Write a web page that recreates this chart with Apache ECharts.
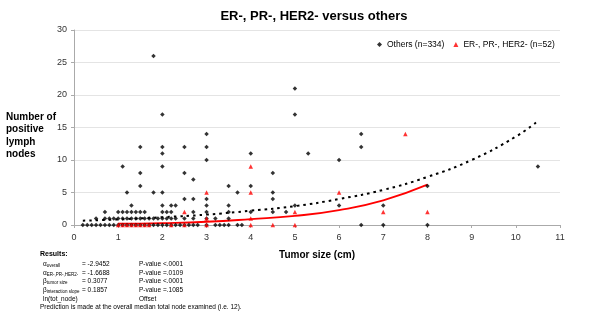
<!DOCTYPE html>
<html>
<head>
<meta charset="utf-8">
<script src="https://cdn.jsdelivr.net/npm/echarts@6/dist/echarts.min.js"></script>
<style>html,body{margin:0;padding:0;background:#fff}#main{width:600px;height:332px}</style>
</head>
<body>
<div id="main"></div>
<script>
// [tumor size cm, positive nodes]
const othersPts = [
  [0.2,0],[0.3,0],[0.4,0],[0.5,0],[0.6,0],[0.7,0],[0.8,0],[0.9,0],[1.0,0],[1.1,0],[1.2,0],[1.3,0],[1.4,0],[1.5,0],
  [1.6,0],[1.7,0],[1.8,0],[1.9,0],[2.0,0],[2.1,0],[2.2,0],[2.3,0],[2.4,0],[2.5,0],[2.6,0],[2.7,0],[2.8,0],[3.0,0],
  [3.2,0],[3.3,0],[3.4,0],[3.5,0],[3.7,0],[3.8,0],[6.5,0],[7.0,0],[8.0,0],
  [0.5,1],[0.7,1],[0.8,1],[0.9,1],[1.0,1],[1.1,1],[1.2,1],[1.3,1],[1.4,1],[1.5,1],[1.6,1],[1.7,1],[1.8,1],[1.9,1],
  [2.0,1],[2.1,1],[2.2,1],[2.3,1],[2.5,1],[2.7,1],[3.0,1],[3.2,1],[3.5,1],
  [0.7,2],[1.0,2],[1.1,2],[1.2,2],[1.3,2],[1.4,2],[1.5,2],[1.6,2],[2.0,2],[2.1,2],[2.2,2],[2.7,2],[3.0,2],[3.5,2],
  [4.0,2],[4.5,2],[4.8,2],
  [1.3,3],[2.0,3],[2.2,3],[2.3,3],[3.0,3],[3.5,3],[5.0,3],[6.0,3],[7.0,3],
  [2.5,4],[2.7,4],[3.0,4],[4.5,4],
  [1.2,5],[1.8,5],[2.0,5],[3.7,5],[4.5,5],
  [1.5,6],[3.5,6],[4.0,6],[8.0,6],
  [2.7,7],
  [1.5,8],[2.5,8],[4.5,8],
  [1.1,9],[2.0,9],[10.5,9],
  [3.0,10],[6.0,10],
  [2.0,11],[4.0,11],[5.3,11],
  [1.5,12],[2.0,12],[2.5,12],[3.0,12],[6.5,12],
  [3.0,14],[6.5,14],
  [2.0,17],[5.0,17],
  [5.0,21],
  [1.8,26]
];
const erNegPts = [
  [1.0,0],[1.1,0],[1.2,0],[1.3,0],[1.4,0],[1.5,0],[1.6,0],[1.7,0],[2.2,0],[2.5,0],[3.0,0],[4.0,0],[4.5,0],[5.0,0],
  [3.0,1],[4.0,1],
  [2.5,2],[5.0,2],[7.0,2],[8.0,2],
  [3.0,5],[4.0,5],[6.0,5],
  [4.0,9],
  [7.5,14]
];
// predicted curves
const othersFit = [[0.2,0.67],[1,0.86],[2,1.2],[3,1.6],[4,2.2],[5,2.9],[6,4.0],[7,5.4],[8,7.4],[9,10.0],[10,13.6],[10.5,16.0]];
const erNegFit = [[1,0.2],[2,0.3],[3,0.5],[4,0.9],[5,1.4],[6,2.3],[7,3.8],[8,6.2]];

const resultRows = [
  ['α', 'overall', '= -2.9452', 'P-value', '<.0001'],
  ['α', 'ER-,PR-,HER2-', '= -1.6688', 'P-value', '=.0109'],
  ['β', 'tumor size', '= 0.3077', 'P-value', '<.0001'],
  ['β', 'interaction slope', '= 0.1857', 'P-value', '=.1085']
];

const chart = echarts.init(document.getElementById('main'));
const ff = 'Liberation Sans, Arial, sans-serif';

const graphics = [
  {type: 'text', left: 6, top: 111, style: {text: 'Number of\npositive\nlymph\nnodes', font: 'bold 10px ' + ff, fill: '#000', lineHeight: 12.3}},
  {type: 'text', x: 40, y: 254, style: {text: 'Results:', font: 'bold 7px ' + ff, fill: '#000', textVerticalAlign: 'middle'}}
];
resultRows.forEach((r, i) => {
  const y = 264 + i * 8.8;
  graphics.push({type: 'text', x: 43, y: y, style: {
    text: '{g|' + r[0] + '}{s|' + r[1] + '}', textVerticalAlign: 'middle', fill: '#000',
    rich: {g: {fontSize: 6.5, fontFamily: ff}, s: {fontSize: 4.5, fontFamily: ff, padding: [3, 0, 0, 0]}}
  }});
  graphics.push({type: 'text', x: 82, y: y, style: {text: r[2], font: '6.5px ' + ff, fill: '#000', textVerticalAlign: 'middle'}});
  graphics.push({type: 'text', x: 139, y: y, style: {text: r[3], font: '6.5px ' + ff, fill: '#000', textVerticalAlign: 'middle'}});
  graphics.push({type: 'text', x: 163, y: y, style: {text: r[4], font: '6.5px ' + ff, fill: '#000', textVerticalAlign: 'middle'}});
});
graphics.push({type: 'text', x: 43, y: 299, style: {text: 'ln(tot_node)', font: '6.5px ' + ff, fill: '#000', textVerticalAlign: 'middle'}});
graphics.push({type: 'text', x: 139, y: 299, style: {text: 'Offset', font: '6.5px ' + ff, fill: '#000', textVerticalAlign: 'middle'}});
graphics.push({type: 'text', x: 40, y: 307, style: {text: 'Prediction is made at the overall median total node examined (i.e. 12).', font: '6.5px ' + ff, fill: '#000', textVerticalAlign: 'middle'}});

const option = {
  animation: false,
  backgroundColor: '#fff',
  title: {
    text: 'ER-, PR-, HER2- versus others',
    left: 309, textAlign: 'center', top: 5,
    textStyle: {fontFamily: ff, fontSize: 13, fontWeight: 'bold', color: '#000'}
  },
  legend: {
    data: [
      {name: 'Others (n=334)', icon: 'diamond'},
      {name: 'ER-, PR-, HER2- (n=52)', icon: 'triangle'}
    ],
    left: 372, top: 35, itemWidth: 5, itemHeight: 5, itemGap: 9,
    textStyle: {fontFamily: ff, fontSize: 8.5, color: '#000'}
  },
  grid: {left: 74, right: 40, top: 30, bottom: 107},
  xAxis: {
    type: 'value', min: 0, max: 11, interval: 1,
    name: 'Tumor size (cm)', nameLocation: 'middle', nameGap: 25,
    nameTextStyle: {fontFamily: ff, fontSize: 10, fontWeight: 'bold', color: '#000'},
    axisLine: {lineStyle: {color: '#aaa'}},
    axisTick: {show: true, length: 3, lineStyle: {color: '#aaa'}},
    axisLabel: {fontFamily: ff, fontSize: 9, color: '#333', margin: 8},
    splitLine: {show: false}
  },
  yAxis: {
    type: 'value', min: 0, max: 30, interval: 5,
    axisLine: {show: true, lineStyle: {color: '#aaa'}},
    axisTick: {show: true, length: 3, lineStyle: {color: '#aaa'}},
    axisLabel: {fontFamily: ff, fontSize: 9, color: '#333', margin: 7},
    splitLine: {lineStyle: {color: '#e4e4e4'}}
  },
  series: [
    {name: 'Others (n=334)', type: 'scatter', symbol: 'diamond', symbolSize: 4.5,
      itemStyle: {color: '#000'}, data: othersPts, z: 3},
    {name: 'ER-, PR-, HER2- (n=52)', type: 'scatter', symbol: 'triangle', symbolSize: 4.5,
      itemStyle: {color: '#ff0000'}, data: erNegPts, z: 4},
    {name: 'othersFit', type: 'line', smooth: true, showSymbol: false, data: othersFit, z: 2,
      lineStyle: {color: '#000', width: 2, type: [2.5, 4]}},
    {name: 'erNegFit', type: 'line', smooth: true, showSymbol: false, data: erNegFit, z: 2,
      lineStyle: {color: '#ff0000', width: 1.8}}
  ],
  graphic: graphics
};
chart.setOption(option);
</script>
</body>
</html>
